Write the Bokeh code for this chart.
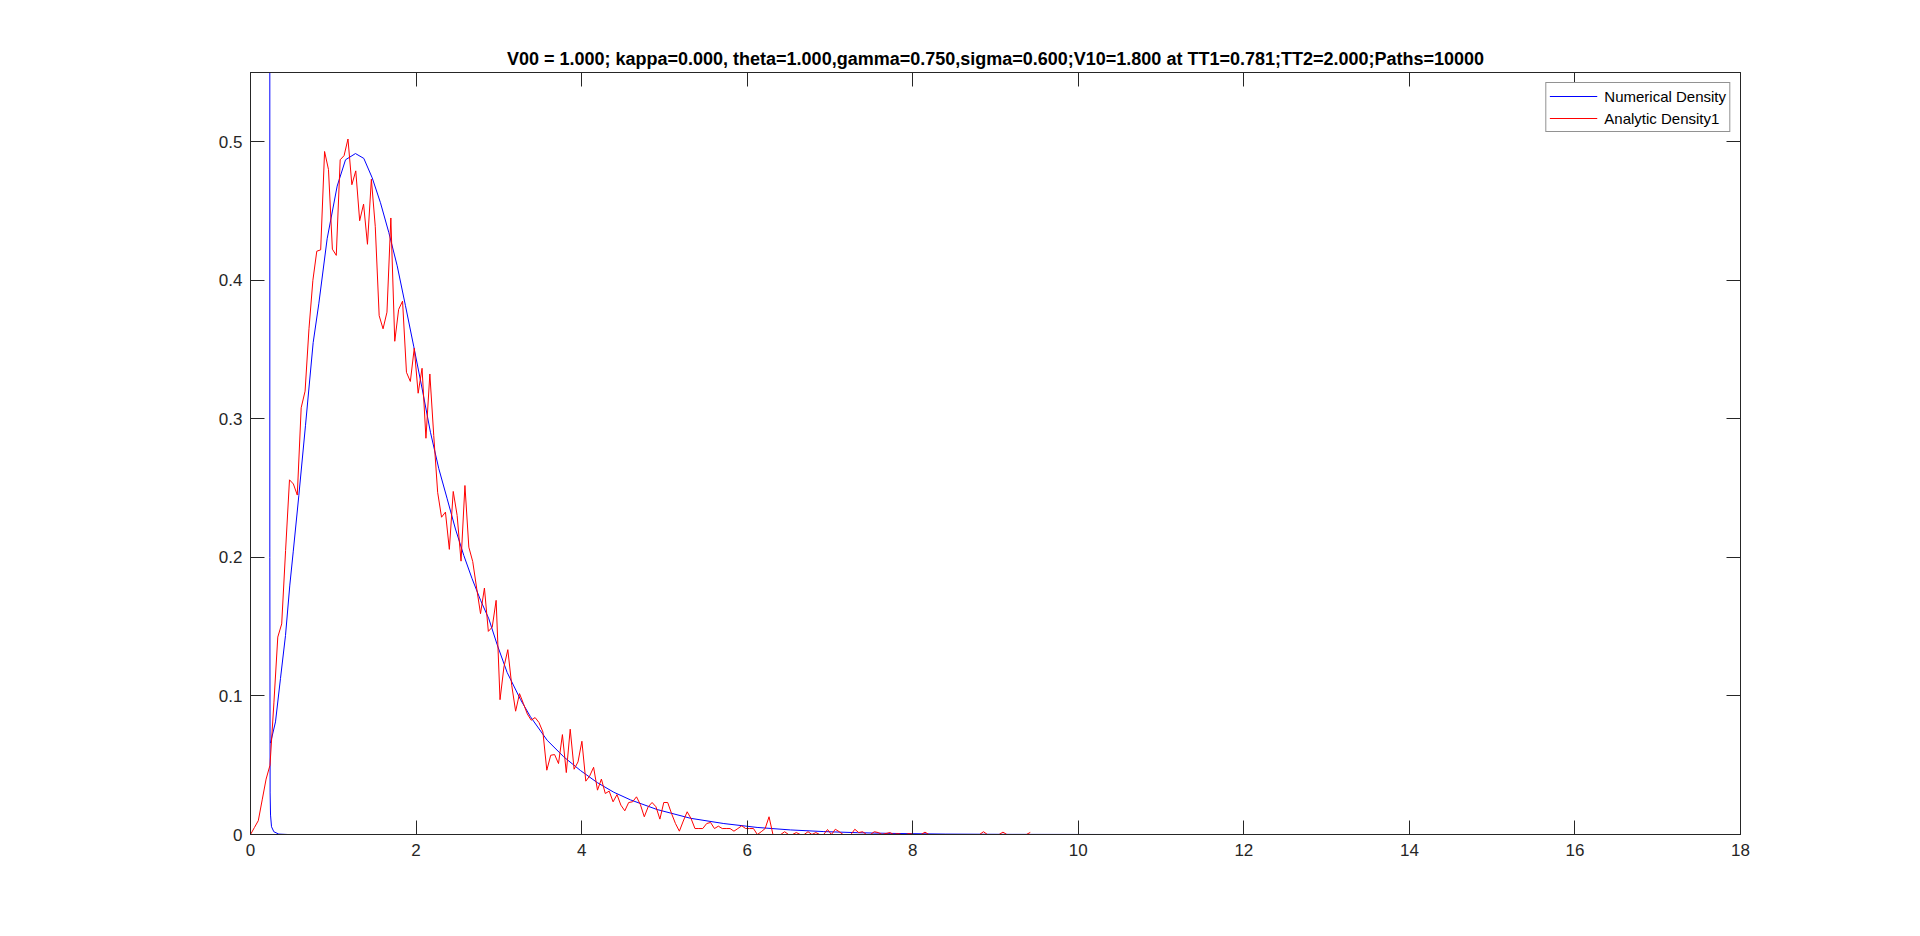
from bokeh.plotting import figure
from bokeh.models import Range1d, FixedTicker, LinearAxis, Legend, LegendItem
from bokeh.embed import file_html
from bokeh.resources import INLINE

title_text = ("V00 = 1.000; kappa=0.000, theta=1.000,gamma=0.750,sigma=0.600;"
              "V10=1.800 at TT1=0.781;TT2=2.000;Paths=10000")

x_ticks = [0, 2, 4, 6, 8, 10, 12, 14, 16, 18]
y_ticks = [0, 0.1, 0.2, 0.3, 0.4, 0.5]

# Analytic density (red) sampled on a regular grid of bins
red_step = 0.0471
red_y = [
    0.0, 0.005, 0.01, 0.025, 0.04, 0.05, 0.095, 0.1425, 0.152, 0.205,
    0.256, 0.253, 0.245, 0.308, 0.32, 0.365, 0.400, 0.421, 0.422, 0.493,
    0.480, 0.4225, 0.418, 0.487, 0.490, 0.502, 0.469, 0.479, 0.443, 0.455,
    0.426, 0.473, 0.439, 0.3745, 0.365, 0.377, 0.445, 0.356, 0.379, 0.385,
    0.3336, 0.327, 0.351, 0.3185, 0.3365, 0.286, 0.3324, 0.288, 0.247, 0.229,
    0.2327, 0.2058, 0.2476, 0.2303, 0.1973, 0.2519, 0.2074, 0.197, 0.1779, 0.1594,
    0.1779, 0.1466, 0.1497, 0.169, 0.0973, 0.1209, 0.1334, 0.1077, 0.089, 0.1017,
    0.0945, 0.087, 0.0825, 0.0844, 0.0808, 0.074, 0.0464, 0.0572, 0.0577, 0.0512,
    0.0721, 0.0447, 0.076, 0.0471, 0.0524, 0.0673, 0.0385, 0.0423, 0.0485, 0.032,
    0.040, 0.0296, 0.0313, 0.0236, 0.0288, 0.0212, 0.0171, 0.0231, 0.0236, 0.0272,
    0.0216, 0.0128, 0.020, 0.0231, 0.020, 0.0111, 0.0231, 0.0231, 0.0151, 0.0079,
    0.0024, 0.0097, 0.0164, 0.0115, 0.0043, 0.0043, 0.0043, 0.0079, 0.0087, 0.0043,
    0.006, 0.0043, 0.0043, 0.0043, 0.0024, 0.0043, 0.0063, 0.0043, 0.0043, 0.0043,
    0.0, 0.002, 0.0043, 0.0128, 0.0, 0.0, 0.0, 0.002, 0.0, 0.0,
    0.0014, 0.0, 0.0, 0.002, 0.0, 0.0014, 0.0, 0.0, 0.0036, 0.0,
    0.0038, 0.002, 0.0, 0.0, 0.0, 0.0038, 0.0014, 0.002, 0.0, 0.0,
    0.002, 0.0014, 0.0, 0.0007, 0.0014, 0.0, 0.0007, 0.0, 0.0, 0.0007,
    0.0, 0.0, 0.0, 0.0017, 0.0, 0.0, 0.0, 0.0, 0.0, 0.0,
    0.0, 0.0, 0.0, 0.0, 0.0, 0.0, 0.0, 0.0, 0.002, 0.0,
    0.0, 0.0, 0.0, 0.0017, 0.0, 0.0, 0.0, 0.0, 0.0, 0.0,
    0.0015,
]
red_x = [round(i * red_step, 4) for i in range(len(red_y))]

# Numerical density (blue): smooth curve
blue_x = [0.242, 0.302, 0.362, 0.423, 0.475, 0.516, 0.584, 0.664, 0.757, 0.825,
          0.926, 1.047, 1.148, 1.268, 1.369, 1.47, 1.57, 1.671, 1.772, 1.872,
          1.973, 2.074, 2.174, 2.275, 2.376, 2.476, 2.577, 2.677, 2.78, 2.879,
          2.98, 3.1, 3.261, 3.382, 3.584, 3.785, 3.986, 4.188, 4.389, 4.59,
          4.913, 5.316, 5.718, 6.12, 6.523, 6.926, 7.33, 7.73, 8.4, 9.2,
          10.5, 16.88]
blue_y = [0.066, 0.0813, 0.1125, 0.1437, 0.18, 0.204, 0.2447, 0.295, 0.355, 0.383,
          0.43, 0.468, 0.487, 0.4915, 0.488, 0.474, 0.456, 0.4345, 0.4105, 0.3817,
          0.352, 0.3216, 0.2903, 0.264, 0.2423, 0.2205, 0.2014, 0.1846, 0.1690, 0.1557,
          0.137, 0.117, 0.0975, 0.085, 0.068, 0.056, 0.0462, 0.0375, 0.0305, 0.025,
          0.018, 0.0117, 0.0079, 0.0051, 0.0033, 0.0021, 0.0013, 0.0008, 0.0003, 0.0001,
          0.0, 0.0]

# Numerical density (blue): spike near the origin
spike_x = [0.233, 0.2335, 0.237, 0.242, 0.254, 0.282, 0.342, 0.45, 0.676]
spike_y = [2.0, 0.2, 0.03, 0.014, 0.0056, 0.002, 0.0003, 0.0, 0.0]

AX = "#262626"
FONT = "Liberation Sans"

p = figure(width=1904, height=926, x_range=Range1d(0, 18), y_range=Range1d(0, 0.55),
           output_backend="svg", toolbar_location=None,
           min_border_left=250, min_border_right=164, min_border_top=72, min_border_bottom=92)
p.background_fill_color = "white"
p.border_fill_color = "white"
p.xgrid.visible = False
p.ygrid.visible = False
p.outline_line_color = AX
p.outline_line_width = 1

p.title.text = title_text
p.title.align = "center"
p.title.text_font = FONT
p.title.text_font_size = "18px"
p.title.text_font_style = "bold"
p.title.text_color = "black"
p.title.standoff = 8


def style_axis(ax, show_labels, standoff):
    ax.major_tick_in = 14
    ax.major_tick_out = 0
    ax.minor_tick_line_color = None
    ax.axis_line_color = AX
    ax.major_tick_line_color = AX
    ax.major_label_text_font = FONT
    ax.major_label_text_font_size = "17px" if show_labels else "0px"
    ax.major_label_text_color = AX if show_labels else None
    ax.major_label_standoff = standoff


p.xaxis.ticker = FixedTicker(ticks=x_ticks)
p.yaxis.ticker = FixedTicker(ticks=y_ticks)
style_axis(p.xaxis[0], True, 9)
style_axis(p.yaxis[0], True, 8)

top_ax = LinearAxis(ticker=FixedTicker(ticks=x_ticks))
style_axis(top_ax, False, 0)
p.add_layout(top_ax, "above")
right_ax = LinearAxis(ticker=FixedTicker(ticks=y_ticks))
style_axis(right_ax, False, 0)
p.add_layout(right_ax, "right")

r_blue = p.line(blue_x, blue_y, line_color="#0000ff", line_width=1)
r_spike = p.line(spike_x, spike_y, line_color="#0000ff", line_width=1)
r_red = p.line(red_x, red_y, line_color="#ff0000", line_width=1)

legend = Legend(items=[LegendItem(label="Numerical Density", renderers=[r_blue]),
                       LegendItem(label="Analytic Density1", renderers=[r_red])],
                location="top_right")
legend.label_text_font = FONT
legend.label_text_font_size = "15px"
legend.label_text_color = "black"
legend.border_line_color = AX
legend.border_line_width = 1
legend.background_fill_color = "white"
legend.background_fill_alpha = 1.0
legend.glyph_width = 48
legend.glyph_height = 20
legend.label_height = 20
legend.spacing = 2
legend.padding = 3
legend.margin = 10
legend.label_standoff = 7
p.add_layout(legend)

open("out.html", "w").write(file_html(p, INLINE))
